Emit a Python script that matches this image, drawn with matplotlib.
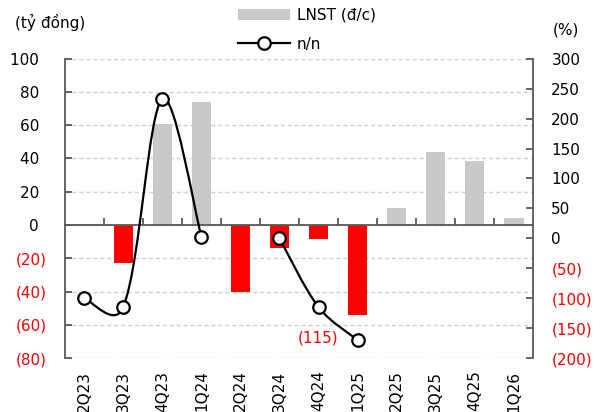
import numpy as np
import matplotlib
matplotlib.use("Agg")
import matplotlib.pyplot as plt
from matplotlib.path import Path
from matplotlib.patches import PathPatch, Patch
from matplotlib.lines import Line2D
from matplotlib.ticker import FuncFormatter, MultipleLocator

# --- Datos ---
quarters = ["2Q23", "3Q23", "4Q23", "1Q24", "2Q24", "3Q24",
            "4Q24", "1Q25", "2Q25", "3Q25", "4Q25", "1Q26"]
lnst = [0.6, -23, 60.5, 74, -40, -14, -8.6, -54, 10.2, 44, 38.3, 4.2]   # ty dong
yoy = [-100, -115, 233, 3, np.nan, 0, -115, -170,
       np.nan, np.nan, np.nan, np.nan]                                  # %
label_text = "(115)"
label_idx = 6

GRAY = "#C9C9C9"
RED = "#FF0000"
AXC = "#595959"

plt.rcParams["font.family"] = ["DejaVu Sans"]
plt.rcParams["font.size"] = 11

fig = plt.figure(figsize=(6.03, 4.12), dpi=100)
ax = fig.add_axes([0.1073, 0.131, 0.7771, 0.7265])
ax2 = ax.twinx()

x = np.arange(len(quarters))
colors = [GRAY if v >= 0 else RED for v in lnst]
ax.bar(x, lnst, width=0.5, color=colors, zorder=2)

ax.set_xlim(-0.5, len(quarters) - 0.5)
ax.set_ylim(-80, 100)
ax2.set_ylim(-200, 300)
ax.yaxis.set_major_locator(MultipleLocator(20))
ax2.yaxis.set_major_locator(MultipleLocator(50))


def fmt(v, pos):
    if v < 0:
        return f"({abs(v):,.0f})"
    return f"{v:,.0f}\u2002"


ax.yaxis.set_major_formatter(FuncFormatter(fmt))
ax2.yaxis.set_major_formatter(FuncFormatter(lambda v, p: f"({abs(v):,.0f})" if v < 0 else f"{v:,.0f}"))

ax.grid(axis="y", color="#CFCFCF", linestyle=(0, (3, 2)), linewidth=1, zorder=0)
ax.set_axisbelow(True)

# spines
for a in (ax, ax2):
    for s in a.spines.values():
        s.set_visible(False)
ax.spines["left"].set_visible(True)
ax.spines["left"].set_color(AXC)
ax.spines["left"].set_linewidth(1.3)
ax2.spines["right"].set_visible(True)
ax2.spines["right"].set_color(AXC)
ax2.spines["right"].set_linewidth(1.3)
# linea de cero con las marcas de categorias
ax.spines["top"].set_visible(True)
ax.spines["top"].set_position(("data", 0))
ax.spines["top"].set_color(AXC)
ax.spines["top"].set_linewidth(1.3)
ax.spines["top"].set_zorder(3)

ax.set_xticks(x)
ax.set_xticklabels(quarters)
ax.set_xticks(x[:-1] + 0.5, minor=True)
ax.tick_params(axis="x", which="major", bottom=True, top=False, length=0,
               labelrotation=90, pad=9)
ax.tick_params(axis="x", which="minor", bottom=False, top=True, direction="out",
               length=5, width=1.3, color=AXC)
ax.tick_params(axis="y", direction="in", length=5, width=1.3, color=AXC, pad=13)
ax2.tick_params(axis="y", direction="in", length=5, width=1.3, color=AXC, pad=13)
for lab in ax.xaxis.get_majorticklabels():
    lab.set_verticalalignment("top")

fig.canvas.draw()
for t, v in zip(ax.yaxis.get_major_ticks(), ax.get_yticks()):
    t.label1.set_color(RED if v < 0 else "black")
for t, v in zip(ax2.yaxis.get_major_ticks(), ax2.get_yticks()):
    t.label2.set_color(RED if v < 0 else "black")


# linea suavizada (estilo Excel) por tramos sin huecos
def smooth_path(xs, ys, a):
    pts = np.column_stack([xs, ys])
    disp = a.transData.transform(pts)
    n = len(xs)

    def L(i, j):
        return np.hypot(*(disp[j] - disp[i])) + 1e-9

    verts = [tuple(pts[0])]
    codes = [Path.MOVETO]
    for i in range(n - 1):
        i0, i3 = max(i - 1, 0), min(i + 2, n - 1)
        p0, p1, p2, p3 = pts[i0], pts[i], pts[i + 1], pts[i3]
        l12 = L(i, i + 1)
        f1 = 0.5 / 6 + 0.5 * l12 / (l12 + L(i0, i)) / 3 if i0 != i else 1 / 6
        f2 = 0.5 / 6 + 0.5 * l12 / (l12 + L(i + 1, i3)) / 3 if i3 != i + 1 else 1 / 6
        c1 = p1 + (p2 - p0) * f1
        c2 = p2 - (p3 - p1) * f2
        verts += [tuple(c1), tuple(c2), tuple(p2)]
        codes += [Path.CURVE4] * 3
    return Path(verts, codes)


yoy_arr = np.array(yoy, dtype=float)
ok = ~np.isnan(yoy_arr)
seg = []
for i in range(len(x) + 1):
    if i < len(x) and ok[i]:
        seg.append(i)
    else:
        if len(seg) > 1:
            p = smooth_path(x[seg].astype(float), yoy_arr[seg], ax2)
            ax2.add_patch(PathPatch(p, facecolor="none", edgecolor="black",
                                    linewidth=1.6, zorder=4))
        seg = []
ax2.plot(x[ok], yoy_arr[ok], linestyle="none", marker="o", markersize=9,
         markerfacecolor="white", markeredgecolor="black", markeredgewidth=1.6,
         zorder=5)

ax2.annotate(label_text, (x[label_idx], yoy[label_idx]), xytext=(0, -22),
             textcoords="offset points", ha="center", va="center", color=RED)

fig.text(15 / 603, 1 - 22 / 412, "(tỷ đồng)", ha="left", va="center")
fig.text(553 / 603, 1 - 30 / 412, "(%)", ha="left", va="center")

handles = [Patch(facecolor=GRAY, edgecolor="none"),
           Line2D([], [], color="black", linewidth=1.6, marker="o", markersize=9,
                  markerfacecolor="white", markeredgecolor="black", markeredgewidth=1.6)]
fig.legend(handles, ["LNST (đ/c)", "n/n"], loc="upper left",
           bbox_to_anchor=(238 / 603, 1 - 8 / 412), frameon=False,
           borderpad=0, borderaxespad=0, handlelength=3.4, handletextpad=0.45,
           labelspacing=0.9)

fig.savefig("out.png", dpi=100)
